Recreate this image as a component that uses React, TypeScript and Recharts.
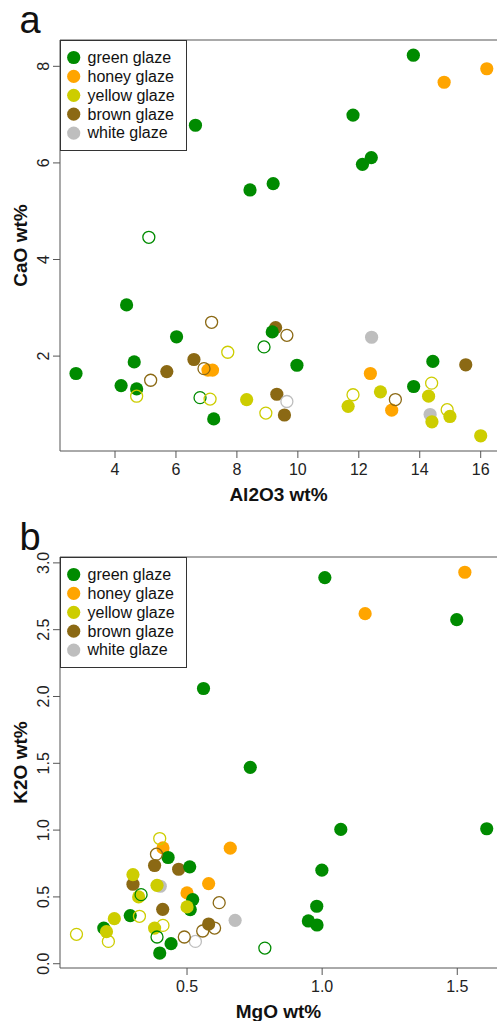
import React from 'react';
import { ScatterChart, Scatter, XAxis, YAxis, ReferenceLine } from 'recharts';

const FONT = '"Liberation Sans", Arial, Helvetica, sans-serif';

const glazeNames = ['green glaze', 'honey glaze', 'yellow glaze', 'brown glaze', 'white glaze'];
const glazeColors = ['#008B00', '#FFA500', '#CDCD00', '#8B6914', '#BEBEBE'];

// panel a: Al2O3 wt% (x) vs CaO wt% (y)
const aGreen = [
  [6.64, 6.78], [8.43, 5.44], [13.79, 8.23], [11.81, 6.99], [12.41, 6.11], [12.12, 5.97],
  [9.19, 5.57], [4.38, 3.06], [6.02, 2.4], [2.72, 1.64], [4.63, 1.88], [4.2, 1.39],
  [4.71, 1.32], [7.24, 0.7], [9.16, 2.5], [9.97, 1.81], [14.43, 1.89], [13.8, 1.37],
];
const aGreenOpen = [[5.11, 4.46], [6.79, 1.14], [8.89, 2.19]];
const aHoney = [[14.8, 7.67], [16.2, 7.95], [7.05, 1.71], [7.2, 1.71], [12.38, 1.64], [13.08, 0.88]];
const aHoneyOpen: number[][] = [];
const aYellow = [[8.32, 1.1], [11.65, 0.96], [12.71, 1.26], [14.29, 1.17], [14.4, 0.64], [14.99, 0.75], [16.0, 0.35]];
const aYellowOpen = [[4.71, 1.17], [7.7, 2.08], [7.12, 1.11], [8.95, 0.82], [11.81, 1.2], [14.39, 1.44], [14.9, 0.89]];
const aBrown = [[5.7, 1.68], [6.59, 1.93], [9.27, 2.59], [9.31, 1.21], [9.56, 0.78], [15.51, 1.82]];
const aBrownOpen = [[5.17, 1.5], [7.17, 2.7], [6.92, 1.74], [9.64, 2.43], [13.2, 1.1]];
const aWhite = [[12.42, 2.39], [14.34, 0.79]];
const aWhiteOpen = [[9.64, 1.06]];

// panel b: MgO wt% (x) vs K2O wt% (y)
const bGreen = [
  [0.561, 2.06], [0.734, 1.47], [1.01, 2.89], [1.498, 2.575], [1.069, 1.005], [1.609, 1.01],
  [0.999, 0.7], [0.98, 0.43], [0.949, 0.32], [0.981, 0.29], [0.192, 0.267], [0.29, 0.36],
  [0.43, 0.795], [0.51, 0.725], [0.521, 0.48], [0.512, 0.405], [0.441, 0.15], [0.399, 0.08],
];
const bGreenOpen = [[0.788, 0.117], [0.33, 0.517], [0.389, 0.2]];
const bHoney = [[1.159, 2.62], [1.528, 2.93], [0.411, 0.867], [0.66, 0.865], [0.58, 0.6], [0.5, 0.53]];
const bHoneyOpen: number[][] = [];
const bYellow = [[0.202, 0.24], [0.231, 0.337], [0.3, 0.667], [0.321, 0.5], [0.389, 0.587], [0.5, 0.425], [0.38, 0.267]];
const bYellowOpen = [[0.091, 0.22], [0.209, 0.167], [0.324, 0.355], [0.399, 0.937], [0.411, 0.287]];
const bBrown = [[0.3, 0.595], [0.38, 0.735], [0.469, 0.707], [0.41, 0.407], [0.58, 0.297]];
const bBrownOpen = [[0.387, 0.82], [0.619, 0.457], [0.602, 0.267], [0.558, 0.245], [0.49, 0.2]];
const bWhite = [[0.401, 0.58], [0.678, 0.325]];
const bWhiteOpen = [[0.531, 0.167]];

const aXTicks = [4, 6, 8, 10, 12, 14, 16];
const aYTicks = [2, 4, 6, 8];
const bXTicks = [0.5, 1.0, 1.5];
const bYTicks = [0.0, 0.5, 1.0, 1.5, 2.0, 2.5, 3.0];

const toPts = (arr: number[][]) => arr.map(([x, y]) => ({ x, y }));

// draw order: white, brown, honey, green, yellow, then the open ones
const order = [4, 3, 1, 0, 2];

function dot(color: string, open: boolean) {
  return (p: any) => (
    <circle
      cx={p.cx}
      cy={p.cy}
      r={open ? 6 : 6.6}
      fill={open ? 'none' : color}
      stroke={color}
      strokeWidth={open ? 1.3 : 0}
    />
  );
}

function Legend({ top, h }: { top: number; h: number }) {
  return (
    <svg style={{ position: 'absolute', left: 60, top, pointerEvents: 'none' }} width={128} height={h + 2}>
      <rect x={0.5} y={0.5} width={126} height={h} fill="#fff" stroke="#333" strokeWidth={1} />
      {glazeNames.map((n, i) => (
        <g key={n}>
          <circle cx={13.7} cy={17.5 + i * 18.9} r={6.6} fill={glazeColors[i]} />
          <text x={27.5} y={22.8 + i * 18.9} fontSize={16} fontFamily={FONT} fill="#111">{n}</text>
        </g>
      ))}
    </svg>
  );
}

type PanelProps = {
  letter: string;
  top: number;
  xLabel: string;
  yLabel: string;
  xDomain: number[];
  yDomain: number[];
  xTicks: number[];
  yTicks: number[];
  fmt: (v: number) => string;
  filled: number[][][];
  open: number[][][];
};

function Panel(props: PanelProps) {
  const { letter, top, xLabel, yLabel, xDomain, yDomain, xTicks, yTicks, fmt, filled, open } = props;
  const W = 498, H = 510;
  const plotTop = 40, plotBottom = 451, plotLeft = 60, plotRight = 497;

  const XTick = (p: any) => (
    <text x={p.x} y={p.y} dy={17} textAnchor="middle" fontSize={16} fontFamily={FONT} fill="#222">
      {fmt(p.payload.value)}
    </text>
  );
  const YTick = (p: any) => {
    const tx = p.x - 3.5;
    return (
      <text x={tx} y={p.y} transform={`rotate(-90 ${tx} ${p.y})`} textAnchor="middle" fontSize={16} fontFamily={FONT} fill="#222">
        {fmt(p.payload.value)}
      </text>
    );
  };

  return (
    <div style={{ position: 'absolute', left: 0, top, width: W, height: H }}>
      <ScatterChart width={W} height={H} margin={{ top: plotTop, right: W - plotRight, bottom: 10, left: 0 }}>
        <XAxis
          type="number"
          dataKey="x"
          domain={xDomain}
          allowDataOverflow
          ticks={xTicks}
          interval={0}
          tick={XTick}
          tickSize={7}
          tickMargin={0}
          height={49}
          axisLine={{ stroke: '#555' }}
          tickLine={{ stroke: '#555' }}
        />
        <YAxis
          type="number"
          dataKey="y"
          domain={yDomain}
          allowDataOverflow
          ticks={yTicks}
          interval={0}
          tick={YTick}
          tickSize={7}
          tickMargin={0}
          width={60}
          axisLine={{ stroke: '#555' }}
          tickLine={{ stroke: '#555' }}
        />
        <ReferenceLine y={yDomain[1]} stroke="#555" />
        {order.map((i) => (
          <Scatter key={'f' + i} data={toPts(filled[i])} shape={dot(glazeColors[i], false)} isAnimationActive={false} />
        ))}
        {order.map((i) => (
          <Scatter key={'o' + i} data={toPts(open[i])} shape={dot(glazeColors[i], true)} isAnimationActive={false} />
        ))}
      </ScatterChart>
      <svg style={{ position: 'absolute', left: 0, top: 0, pointerEvents: 'none' }} width={W} height={H}>
        <text x={19.5} y={33} fontSize={38} fontFamily={FONT} fill="#111">{letter}</text>
        <text
          x={26.5}
          y={(plotTop + plotBottom) / 2}
          transform={`rotate(-90 26.5 ${(plotTop + plotBottom) / 2})`}
          textAnchor="middle"
          fontSize={19}
          fontWeight="bold"
          fontFamily={FONT}
          fill="#111"
        >
          {yLabel}
        </text>
        <text
          x={(plotLeft + plotRight) / 2}
          y={plotBottom + 49.5}
          textAnchor="middle"
          fontSize={19}
          fontWeight="bold"
          fontFamily={FONT}
          fill="#111"
        >
          {xLabel}
        </text>
      </svg>
      <Legend top={plotTop} h={110} />
    </div>
  );
}

export default function App() {
  return (
    <div style={{ position: 'absolute', left: 0, top: 0, width: 498, height: 1021, overflow: 'hidden', background: '#fff' }}>
      <Panel
        letter="a"
        top={0}
        xLabel="Al2O3 wt%"
        yLabel="CaO wt%"
        xDomain={[2.195, 16.535]}
        yDomain={[0.035, 8.545]}
        xTicks={aXTicks}
        yTicks={aYTicks}
        fmt={(v) => String(v)}
        filled={[aGreen, aHoney, aYellow, aBrown, aWhite]}
        open={[aGreenOpen, aHoneyOpen, aYellowOpen, aBrownOpen, aWhiteOpen]}
      />
      <Panel
        letter="b"
        top={517}
        xLabel="MgO wt%"
        yLabel="K2O wt%"
        xDomain={[0.03, 1.647]}
        yDomain={[-0.032, 3.044]}
        xTicks={bXTicks}
        yTicks={bYTicks}
        fmt={(v) => v.toFixed(1)}
        filled={[bGreen, bHoney, bYellow, bBrown, bWhite]}
        open={[bGreenOpen, bHoneyOpen, bYellowOpen, bBrownOpen, bWhiteOpen]}
      />
    </div>
  );
}
